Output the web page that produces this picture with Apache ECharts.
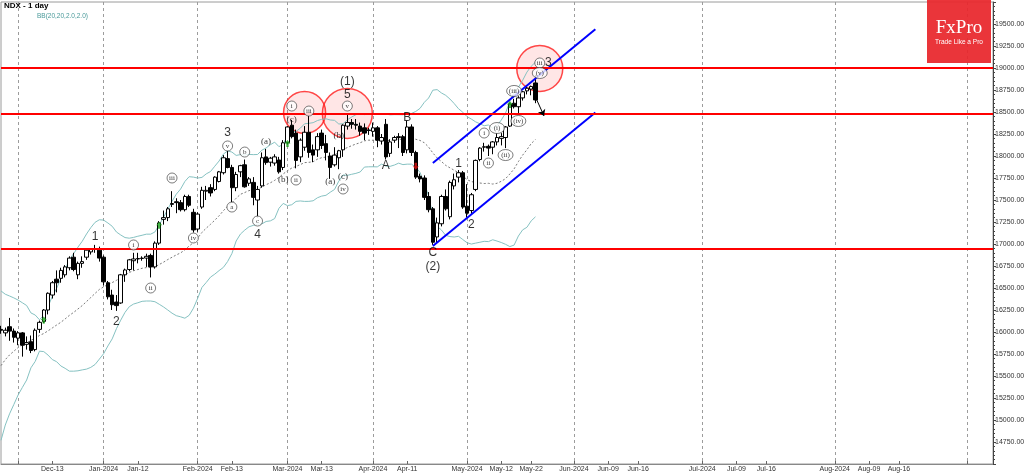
<!DOCTYPE html>
<html><head><meta charset="utf-8">
<script src="https://cdn.jsdelivr.net/npm/echarts@6/dist/echarts.min.js"></script>
<style>html,body{margin:0;padding:0;background:#fff}#c{width:1024px;height:474px}</style>
</head><body><div id="c"></div>
<script>
// ---------- DATA ----------
const firstDate = "2023-11-27", lastCandleDate = "2024-05-23", axisEndDate = "2024-09-07";
const holidays = ["2023-12-25", "2024-01-01", "2024-03-29"];

const opens = [16030,15990,16060,16010,15930,15990,15860,15890,15800,16030,16120,16250,16420,16600,16610,16650,16730,16850,16650,16780,16850,16910,16945,16930,16850,16560,16420,16340,16330,16650,16710,16810,16830,16835,16840,16870,16740,17010,17280,17300,17450,17480,17470,17390,17540,17360,17170,17420,17600,17640,17620,17710,17810,17970,17870,17640,17820,17900,17690,17700,17500,17660,17990,17930,17920,17955,17870,18150,18350,18260,17990,18100,18270,18070,18070,18260,18140,18000,17900,17980,18070,18340,18380,18360,18340,18320,18290,18280,18320,18170,18360,18030,18180,18210,18220,18070,18330,18040,17770,17750,17540,17400,17080,17230,17540,17310,17660,17760,17810,17430,17380,17620,17960,18100,18110,18100,18160,18200,18210,18340,18600,18560,18660,18740,18760,18830];
const highs = [16070,16050,16160,16040,16010,16000,15950,15960,16040,16130,16260,16450,16580,16700,16730,16760,16860,16900,16800,16860,16940,16950,16990,16970,16870,16580,16480,16420,16660,16720,16830,16900,16900,16860,16890,16890,17030,17260,17380,17420,17600,17520,17500,17560,17560,17400,17360,17650,17660,17680,17770,17830,18010,18060,17900,17820,17900,17960,17760,17760,17660,18040,18080,17990,18020,17990,18180,18340,18410,18300,18200,18340,18460,18130,18260,18300,18240,18040,18100,18070,18360,18470,18420,18420,18380,18370,18320,18380,18340,18250,18420,18190,18230,18260,18240,18400,18360,18060,17800,17780,17590,17420,17300,17560,17620,17720,17800,17840,17830,17680,17580,17960,18100,18150,18130,18170,18260,18260,18340,18600,18650,18680,18740,18790,18800,18920];
const lows = [15980,15950,15900,15880,15850,15720,15800,15760,15780,15990,16100,16200,16380,16450,16560,16620,16700,16690,16600,16730,16820,16880,16900,16800,16530,16370,16250,16240,16320,16570,16690,16700,16780,16810,16740,16620,16720,16990,17220,17260,17420,17350,17370,17370,17420,17130,17140,17400,17500,17540,17600,17700,17790,17860,17470,17600,17760,17640,17660,17440,17300,17640,17900,17880,17890,17800,17840,18130,18200,17860,17930,18060,17980,17930,17990,18080,17950,17740,17880,17850,17990,18300,18310,18300,18230,18180,18240,18220,18100,18130,17960,17990,18150,18090,18000,18030,18000,17740,17700,17500,17360,16990,17010,17200,17380,17280,17620,17700,17400,17300,17330,17600,17940,18050,18000,18020,18120,18120,18090,18330,18540,18470,18630,18700,18690,18600];
const closes = [16020,16020,16010,15940,15990,15850,15880,15790,16020,16110,16250,16440,16560,16560,16700,16740,16840,16710,16780,16800,16930,16940,16940,16840,16570,16400,16310,16300,16650,16705,16820,16830,16835,16840,16860,16740,17010,17240,17300,17400,17460,17470,17390,17540,17440,17160,17340,17610,17610,17580,17760,17820,17980,17870,17640,17790,17890,17650,17740,17530,17620,17980,17925,17975,17990,17820,18150,18330,18220,17950,18180,18270,18040,18010,18220,18120,18040,17870,18010,18060,18350,18380,18360,18350,18280,18260,18295,18320,18180,18210,17990,18160,18210,18220,18040,18330,18040,17760,17740,17530,17390,17020,17240,17540,17400,17700,17730,17810,17420,17350,17560,17950,18090,18105,18090,18160,18210,18220,18330,18590,18560,18660,18730,18770,18790,18636.8];
// closes of the 19 sessions before the window (for the 20-day Bollinger band)
const priorCloses = [14665,14931,15099,15157,15291,15355,15243,15529,15482,15812,15832,15906,15898,16073,15969,16034,16030,16008,16025];
const lastPrice = 18636.8;

const levels = [19000, 18475, 16945];
const channelUpper = [["2024-04-19", 17920], ["2024-06-06", 19440]];
const channelLower = [["2024-04-19", 16977], ["2024-06-06", 18495]];
const forecastArrow = [["2024-05-23", 18670], ["2024-05-25", 18455]];

const xTickLabels = [["2023-12-13","Dec-13"],["2024-01-02","Jan-2024"],["2024-01-12","Jan-12"],["2024-02-01","Feb-2024"],["2024-02-13","Feb-13"],["2024-03-01","Mar-2024"],["2024-03-13","Mar-13"],["2024-04-01","Apr-2024"],["2024-04-11","Apr-11"],["2024-05-01","May-2024"],["2024-05-13","May-12"],["2024-05-22","May-22"],["2024-06-01","Jun-2024"],["2024-06-09","Jun-09"],["2024-06-16","Jun-16"],["2024-07-01","Jul-2024"],["2024-07-09","Jul-09"],["2024-07-16","Jul-16"],["2024-08-01","Aug-2024"],["2024-08-09","Aug-09"],["2024-08-16","Aug-16"],["2024-09-01",""]];
const monthStarts = ["2023-12-01","2024-01-02","2024-02-01","2024-03-01","2024-04-01","2024-05-01","2024-06-01","2024-07-01","2024-08-01","2024-09-01"];

const waveLabels = [["2023-12-28",17080,"1"],["2024-01-05",16114,"2"],["2024-02-12",18261,"3"],["2024-02-21",17102,"4"],["2024-03-21",18693,"5"],["2024-03-21",18841,"(1)"],["2024-04-04",17886,"A"],["2024-04-11",18432,"B"],["2024-04-19",16898,"C"],["2024-04-19",16739,"(2)"],["2024-04-29",17909,"1"],["2024-05-02",17216,"2"],["2024-05-26",19057,"3"]];
const circledLabels = [["2024-01-11",16989,"i"],["2024-01-17",16500,"ii"],["2024-01-24",17750,"iii"],["2024-01-31",17068,"iv"],["2024-02-12",18114,"v"],["2024-02-13",17420,"a"],["2024-02-16",18045,"b"],["2024-02-21",17261,"c"],["2024-03-04",18568,"i"],["2024-03-05",17727,"ii"],["2024-03-08",18511,"iii"],["2024-03-20",17625,"iv"],["2024-03-21",18568,"v"],["2024-05-07",18261,"i"],["2024-05-08",17920,"ii"],["2024-05-24",19057,"iii"]];
const parenCircled = [["2024-05-10",18318,"(i)"],["2024-05-14",18011,"(ii)"],["2024-05-16",18739,"(iii)"],["2024-05-17",18398,"(iv)"],["2024-05-24",18943,"(v)"]];
const parenLabels = [["2024-02-23",18159,"(a)"],["2024-02-29",17727,"(b)"],["2024-03-04",18409,"(c)"],["2024-03-15",17705,"(a)"],["2024-03-19",18227,"(b)"],["2024-03-20",17761,"(c)"]];
const zoneCircles = [["2024-03-07",18495,42],["2024-03-21",18484,50],["2024-05-24",18995,46]];
const buyArrows = [["2023-12-11",16135],["2024-01-19",17213],["2024-03-01",18143],["2024-05-15",18586]];
const sellArrows = [["2024-04-15",17883]];

// ---------- CATEGORIES ----------
function ymd(d){return d.toISOString().slice(0,10);}
const cats = [];
{
  const d = new Date(firstDate + "T00:00:00Z");
  while (ymd(d) <= lastCandleDate) {
    const wd = d.getUTCDay(), s = ymd(d);
    if (wd !== 0 && wd !== 6 && !holidays.includes(s)) cats.push(s);
    d.setUTCDate(d.getUTCDate() + 1);
  }
  while (ymd(d) <= axisEndDate) { cats.push(ymd(d)); d.setUTCDate(d.getUTCDate() + 1); }
}
const candleData = closes.map((c, i) => [opens[i], c, lows[i], highs[i]]);

// Bollinger (20, 2)
const allC = priorCloses.concat(closes);
const bbU = [], bbM = [], bbL = [];
for (let i = 0; i < closes.length; i++) {
  const w = allC.slice(i, i + 20);
  const m = w.reduce((a, b) => a + b, 0) / 20;
  const sd = Math.sqrt(w.reduce((a, b) => a + (b - m) * (b - m), 0) / 20);
  bbM.push(+m.toFixed(2)); bbU.push(+(m + 2 * sd).toFixed(2)); bbL.push(+(m - 2 * sd).toFixed(2));
}

const labelMap = Object.fromEntries(xTickLabels);
const tickSet = new Set(xTickLabels.map(a => a[0]).concat(monthStarts));

const sans = "'Liberation Sans', Arial, sans-serif";
const serif = "'Liberation Serif', 'Times New Roman', serif";
const arrowPath = 'path://M5,0 L10,5 L7,5 L7,10 L3,10 L3,5 L0,5 Z';
const ellipsePath = 'path://M0,5 A8,5 0 1,0 16,5 A8,5 0 1,0 0,5 Z';

const chart = echarts.init(document.getElementById('c'));
chart.setOption({
  animation: false,
  backgroundColor: '#ffffff',
  grid: { left: 1, right: 31, top: 2, bottom: 10, show: true, borderColor: '#9a9a9a', borderWidth: 1, containLabel: false, outerBoundsMode: 'none' },
  xAxis: {
    type: 'category', data: cats, boundaryGap: false,
    axisLine: { show: true, lineStyle: { color: '#888' } },
    axisTick: { show: true, inside: true, length: 3, interval: (i, v) => tickSet.has(v), lineStyle: { color: '#666' } },
    axisLabel: { show: true, interval: (i, v) => v in labelMap, formatter: v => labelMap[v] || '', fontSize: 7, color: '#333', margin: 2, fontFamily: sans },
    splitLine: { show: true, interval: (i, v) => monthStarts.includes(v), lineStyle: { color: '#9c9c9c', type: [3, 3], width: 1 } }
  },
  yAxis: {
    type: 'value', position: 'right', min: 14500, max: 19750, interval: 250, scale: true,
    axisLine: { show: true, lineStyle: { color: '#444' } },
    axisTick: { show: true, length: 3, lineStyle: { color: '#444' } },
    minorTick: { show: true, splitNumber: 5, length: 2, lineStyle: { color: '#444' } },
    axisLabel: { showMinLabel: false, showMaxLabel: false, formatter: v => v.toFixed(2), fontSize: 7, color: '#333', margin: 2, fontFamily: sans },
    splitLine: { show: false }
  },
  graphic: [
    { type: 'rect', shape: { x: 927, y: 0, width: 64, height: 63 }, style: { fill: '#e8262b', opacity: 0.93 }, z: 1 },
    { type: 'text', style: { text: 'FxPro', x: 959, y: 28, fill: '#fff', font: '19px ' + serif, textAlign: 'center', textVerticalAlign: 'middle' }, z: 2 },
    { type: 'text', style: { text: 'Trade Like a Pro', x: 959, y: 42, fill: '#fff', font: '6.5px ' + sans, textAlign: 'center', textVerticalAlign: 'middle' }, z: 2 },
    { type: 'text', style: { text: 'NDX - 1 day', x: 4, y: 6, fill: '#000', font: 'bold 8px ' + sans, textVerticalAlign: 'middle' }, z: 5 },
    { type: 'text', style: { text: 'BB(20,20,2.0,2.0)', x: 37, y: 16, fill: '#4a9a9a', font: '6.5px ' + sans, textVerticalAlign: 'middle' }, z: 5 }
  ],
  series: [
    {
      name: 'zones', type: 'scatter', data: zoneCircles, symbol: 'circle',
      symbolSize: v => v[2], itemStyle: { color: 'rgba(255,0,0,0.12)', borderColor: '#ff1a1a', borderWidth: 1.5 }, z: 1, silent: true
    },
    { name: 'BB upper', type: 'line', data: bbU, symbol: 'none', lineStyle: { color: '#86c2c2', width: 1 }, z: 2, silent: true },
    { name: 'BB lower', type: 'line', data: bbL, symbol: 'none', lineStyle: { color: '#86c2c2', width: 1 }, z: 2, silent: true },
    { name: 'BB mid', type: 'line', data: bbM, symbol: 'none', lineStyle: { color: '#7a7a7a', width: 1, type: [2, 2] }, z: 2, silent: true },
    {
      name: 'NDX', type: 'candlestick', data: candleData, barWidth: 4, z: 3,
      itemStyle: { color: '#ffffff', color0: '#000000', borderColor: '#000000', borderColor0: '#000000', borderWidth: 1 },
      markLine: {
        silent: true, symbol: 'none', animation: false,
        data: levels.map(v => ({ yAxis: v, lineStyle: { color: '#ff0000', width: 2, type: 'solid' }, label: { show: false } }))
          .concat([
            { yAxis: lastPrice, lineStyle: { width: 0, opacity: 0 },
              label: { show: true, position: 'end', formatter: lastPrice.toFixed(2), fontSize: 7, color: '#000', fontFamily: sans, backgroundColor: '#fff', borderColor: '#777', borderWidth: 1, padding: [1, 2, 0, 2], distance: 3 } },
            [ { coord: forecastArrow[0], symbol: 'none', lineStyle: { color: '#000', width: 1, type: 'solid' }, label: { show: false } },
              { coord: forecastArrow[1], symbol: 'arrow', symbolSize: 6 } ]
          ])
      }
    },
    { name: 'channel up', type: 'line', data: channelUpper, symbol: 'none', lineStyle: { color: '#0000ff', width: 2 }, z: 4, silent: true },
    { name: 'channel low', type: 'line', data: channelLower, symbol: 'none', lineStyle: { color: '#0000ff', width: 2 }, z: 4, silent: true },
    { name: 'buy', type: 'scatter', data: buyArrows, symbol: arrowPath, symbolSize: [6, 7], itemStyle: { color: '#1aa01a' }, z: 5, silent: true },
    { name: 'sell', type: 'scatter', data: sellArrows, symbol: arrowPath, symbolRotate: 180, symbolSize: [6, 7], itemStyle: { color: '#e01010' }, z: 5, silent: true },
    {
      name: 'waves', type: 'scatter', data: waveLabels, symbolSize: 1, itemStyle: { color: 'rgba(0,0,0,0)' }, z: 6, silent: true,
      label: { show: true, position: 'inside', formatter: p => p.data[2], fontSize: 12, color: '#000', fontFamily: sans }
    },
    {
      name: 'circled', type: 'scatter', data: circledLabels, symbol: 'circle', symbolSize: 10, z: 6, silent: true,
      itemStyle: { color: '#ffffff', borderColor: '#333', borderWidth: 0.8 },
      label: { show: true, position: 'inside', formatter: p => p.data[2], fontSize: 7, color: '#000', fontFamily: serif }
    },
    {
      name: 'circledParen', type: 'scatter', data: parenCircled, symbol: ellipsePath, symbolSize: [15, 11], symbolKeepAspect: false, z: 6, silent: true,
      itemStyle: { color: '#ffffff', borderColor: '#333', borderWidth: 0.8 },
      label: { show: true, position: 'inside', formatter: p => p.data[2], fontSize: 7, color: '#000', fontFamily: serif }
    },
    {
      name: 'paren', type: 'scatter', data: parenLabels, symbolSize: 1, itemStyle: { color: 'rgba(0,0,0,0)' }, z: 6, silent: true,
      label: { show: true, position: 'inside', formatter: p => p.data[2], fontSize: 9, color: '#000', fontFamily: serif }
    }
  ]
});
</script></body></html>
